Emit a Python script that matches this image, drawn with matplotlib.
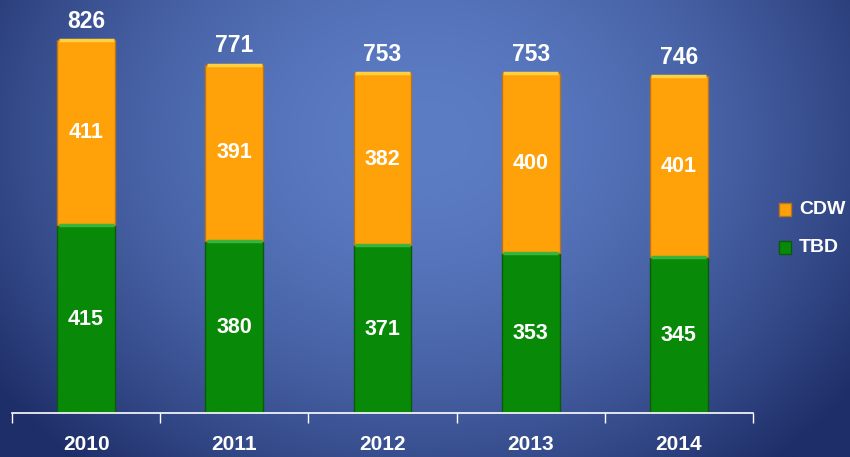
import numpy as np
import matplotlib.pyplot as plt
from matplotlib.patches import Rectangle

plt.rcParams["font.family"] = ["Liberation Sans", "DejaVu Sans"]

years = ["2010", "2011", "2012", "2013", "2014"]
tbd = [415, 380, 371, 353, 345]
cdw = [411, 391, 382, 400, 401]
totals = [826, 771, 753, 753, 746]

fig = plt.figure(figsize=(8.5, 4.57), dpi=100)

# background: broad radial blue gradient, lighter in the upper middle
bg = fig.add_axes([0, 0, 1, 1])
yy, xx = np.mgrid[0:1:300j, 0:1:560j]
r = np.sqrt(((xx - 0.5) / 0.62) ** 2 + ((yy - 0.3) / 0.95) ** 2)
r = np.clip(r, 0, 1) ** 1.8
c_in = np.array([0x5c, 0x7c, 0xc4]) / 255
c_out = np.array([0x1e, 0x2e, 0x68]) / 255
img = c_in[None, None, :] * (1 - r[..., None]) + c_out[None, None, :] * r[..., None]
bg.imshow(img, aspect="auto", extent=[0, 1, 0, 1], origin="upper")
bg.axis("off")

ax = fig.add_axes([12 / 850, 44 / 457, 741 / 850, 413 / 457])
ax.patch.set_alpha(0)
x = np.arange(len(years))
w = 0.39
ax.bar(x, tbd, w, color="#088a08", edgecolor="#0b5a0b", linewidth=1.0)
ax.bar(x, cdw, w, bottom=tbd, color="#ffa20a", edgecolor="#b8741a", linewidth=1.0)
# bevel highlight at the top of each segment
ax.hlines(tbd, x - w / 2 + 0.01, x + w / 2 - 0.01, color="#3cb43c", linewidth=2.5)
ax.hlines(totals, x - w / 2 + 0.01, x + w / 2 - 0.01, color="#ffd040", linewidth=2.5)

for i in range(len(years)):
    ax.text(x[i], tbd[i] / 2, str(tbd[i]), ha="center", va="center",
            color="white", fontsize=15.5, fontweight="bold")
    ax.text(x[i], tbd[i] + cdw[i] / 2, str(cdw[i]), ha="center", va="center",
            color="white", fontsize=15.5, fontweight="bold")
    ax.text(x[i], totals[i] + 16, str(totals[i]), ha="center", va="bottom",
            color="white", fontsize=16.5, fontweight="bold")

ax.set_xlim(-0.5, len(years) - 0.5)
ax.set_ylim(0, 914)
for s in ["top", "right", "left"]:
    ax.spines[s].set_visible(False)
ax.spines["bottom"].set_color("white")
ax.spines["bottom"].set_linewidth(1.2)
ax.set_yticks([])
ax.set_xticks(np.arange(-0.5, len(years)), minor=False)
ax.set_xticklabels([])
ax.tick_params(axis="x", colors="white", length=7, width=1, direction="out")
for i, y in enumerate(years):
    ax.text(x[i], -69, y, ha="center", va="center", color="white",
            fontsize=15, fontweight="bold", clip_on=False)

# legend
for lab, col, ec, ypix in [("CDW", "#ffa20a", "#b8741a", 210), ("TBD", "#088a08", "#0b5a0b", 247)]:
    fy = 1 - ypix / 457
    fig.patches.append(Rectangle((779 / 850, fy - 6.5 / 457), 12 / 850, 13 / 457,
                                 transform=fig.transFigure, facecolor=col,
                                 edgecolor=ec, linewidth=1))
    fig.text(799 / 850, fy, lab, color="white", fontsize=14, fontweight="bold",
             va="center", ha="left")

fig.savefig("out.png", dpi=100)
